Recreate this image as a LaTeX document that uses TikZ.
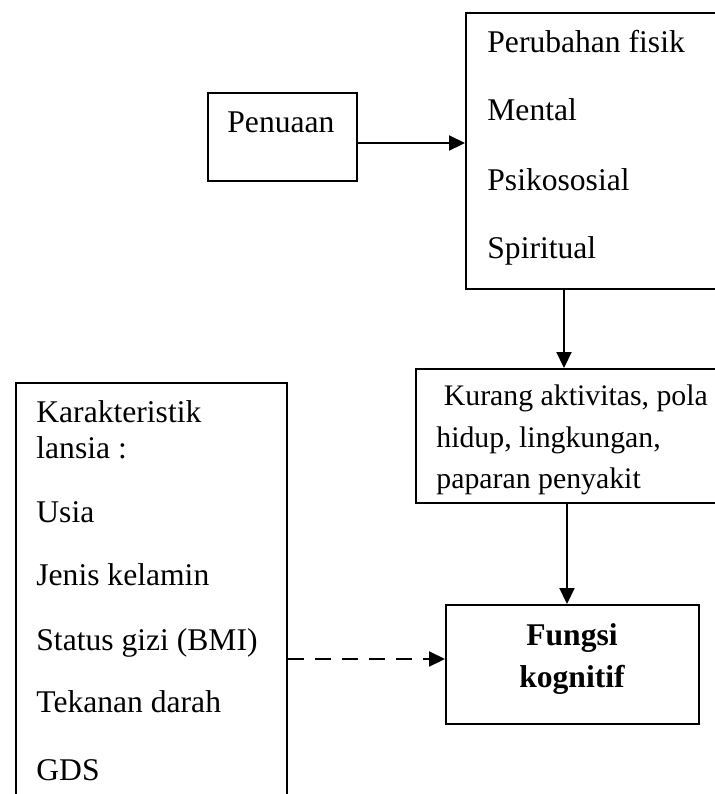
\documentclass[tikz,border=0pt]{standalone}
\usepackage{fontspec}
\setmainfont{Liberation Serif}
\usetikzlibrary{arrows.meta,calc}
\tikzset{
  kotak/.style={draw, line width=0.9pt, anchor=north west, inner sep=0pt},
  teks/.style={anchor=base west, inner sep=0pt, font=\fontsize{15.8}{18}\selectfont},
  teks kecil/.style={teks, font=\fontsize{14.9}{17}\selectfont},
  panah/.style={line width=1.1pt, -{Triangle[length=8pt,width=7.5pt]}}
}
\begin{document}
\begin{tikzpicture}[x=0.5pt,y=-0.5pt]
\useasboundingbox (0,0) rectangle (715,794);
% kotak-kotak
\node[kotak, minimum width=74.5pt, minimum height=44pt] (pen) at (207,92) {};
\node[kotak, minimum width=150pt, minimum height=138pt] (fis) at (465,12) {};
\node[kotak, minimum width=160pt, minimum height=67pt] (kur) at (415,368) {};
\node[kotak, minimum width=126.5pt, minimum height=59.5pt] (fun) at (445,604) {};
\node[kotak, minimum width=135.5pt, minimum height=230pt] (kar) at (15,382) {};
% isi teks
\node[teks] (t-pen) at (227,132) {Penuaan};
\foreach \y/\txt in {52/Perubahan fisik, 120/Mental, 190/Psikososial, 258/Spiritual}
  \node[teks] (t-fis-\y) at (487,\y) {\txt};
\node[teks kecil] (t-kur1) at (436,405) {\ Kurang aktivitas, pola};
\node[teks kecil] (t-kur2) at (436,447) {hidup, lingkungan,};
\node[teks kecil] (t-kur3) at (436,488) {paparan penyakit};
\node[teks, anchor=base, font=\fontsize{15.8}{18}\selectfont\bfseries] (t-fun1) at (572,645) {Fungsi};
\node[teks, anchor=base, font=\fontsize{15.8}{18}\selectfont\bfseries] (t-fun2) at (572,687) {kognitif};
\foreach \y/\txt in {422/Karakteristik, 458/lansia :, 522/Usia, 585/Jenis kelamin, 650/Status gizi (BMI), 712/Tekanan darah, 780/GDS}
  \node[teks] (t-kar-\y) at (36,\y) {\txt};
% panah
\coordinate (a1) at (0,143);
\coordinate (a2) at (564,0);
\coordinate (a3) at (567,0);
\coordinate (a4) at (0,659);
\draw[panah] (pen.east |- a1) -- (fis.west |- a1);
\draw[panah] (fis.south -| a2) -- (kur.north -| a2);
\draw[panah] (kur.south -| a3) -- (fun.north -| a3);
\draw[panah, dash pattern=on 8pt off 5.5pt] (kar.east |- a4) -- (fun.west |- a4);
\end{tikzpicture}
\end{document}
